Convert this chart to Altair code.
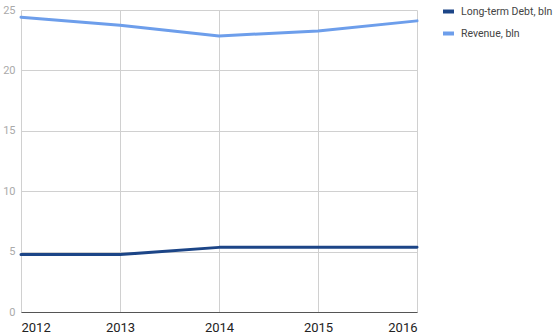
import altair as alt
import pandas as pd

years = [2012, 2013, 2014, 2015, 2016]
debt = [4.75, 4.75, 5.35, 5.35, 5.37]
revenue = [24.4, 23.73, 22.85, 23.26, 24.1]
series_names = ["Long-term Debt, bln", "Revenue, bln"]
colors = ["#1c4587", "#6d9eeb"]
y_ticks = [0, 5, 10, 15, 20, 25]

rows = []
for y, d, r in zip(years, debt, revenue):
    rows.append({"year": y, "series": series_names[0], "value": d})
    rows.append({"year": y, "series": series_names[1], "value": r})
df = pd.DataFrame(rows)

chart = alt.Chart(df).mark_line(strokeWidth=3, strokeJoin="round", strokeCap="round").encode(
    x=alt.X("year:Q", scale=alt.Scale(domain=[2012, 2016], nice=False, zero=False),
            axis=alt.Axis(title=None, values=years, format="d", grid=True, gridColor="#d0d0d0",
                          domain=True, domainColor="#555555", ticks=False, labelPadding=9,
                          labelFontSize=13, labelColor="#222222", labelFont="Roboto")),
    y=alt.Y("value:Q", scale=alt.Scale(domain=[0, 25], nice=False),
            axis=alt.Axis(title=None, values=y_ticks, grid=True, gridColor="#d0d0d0",
                          domain=False, ticks=False, labelPadding=6,
                          labelFontSize=11, labelColor="#aaaaaa", labelFont="Roboto")),
    color=alt.Color("series:N", scale=alt.Scale(domain=series_names, range=colors),
                    legend=alt.Legend(title=None, orient="none", legendX=420, legendY=-6,
                                      symbolType="stroke", symbolSize=121, symbolStrokeWidth=4,
                                      labelFontSize=10.5, labelColor="#444444", labelFont="Roboto",
                                      labelOffset=5, rowPadding=5, padding=0, labelLimit=200)),
).properties(
    width=396, height=302,
    autosize=alt.AutoSizeParams(type="none"),
    padding={"left": 21, "top": 10, "right": 141, "bottom": 21},
).configure_view(stroke=None)

chart.save("out.html", embed_options={"renderer": "svg", "actions": False})
